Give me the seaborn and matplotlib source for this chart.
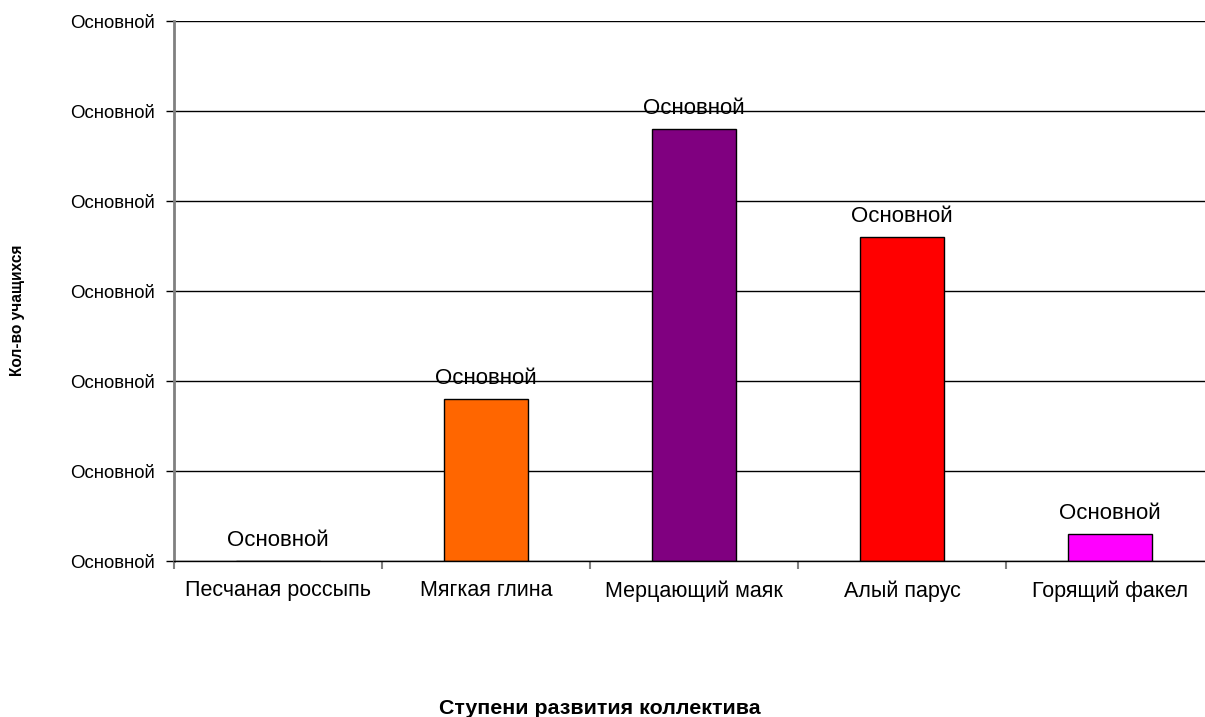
import matplotlib
matplotlib.use('Agg')
from matplotlib import pyplot as plt
import numpy as np
import pandas as pd
import seaborn as sns


categories = ['Песчаная россыпь', 'Мягкая глина', 'Мерцающий маяк', 'Алый парус', 'Горящий факел']
counts = [0, 6, 16, 12, 1]
colors = ['#3366FF', '#FF6600', '#800080', '#FF0000', '#FF00FF']
y_ticks = np.linspace(0, 20, 7)
tick_label = 'Основной'

sns.set_style('white')
plt.rcParams['font.family'] = ['Liberation Sans', 'DejaVu Sans']
plt.rcParams['text.color'] = 'black'
plt.rcParams['xtick.labelcolor'] = 'black'
plt.rcParams['ytick.labelcolor'] = 'black'

df = pd.DataFrame({'stage': categories, 'count': counts})

fig = plt.figure(figsize=(12.05, 7.17), dpi=100)
# plot area runs past the right edge, as in the original
ax = fig.add_axes([174 / 1205, 1 - 561 / 717, 1040 / 1205, 540 / 717])

sns.barplot(data=df, x='stage', y='count', hue='stage', palette=colors, saturation=1,
            width=0.4, edgecolor='black', linewidth=1, legend=False, ax=ax)

ax.set_ylim(0, 20)
ax.set_xlim(-0.5, len(categories) - 0.5)
ax.set_yticks(y_ticks)
ax.set_yticklabels([tick_label] * len(y_ticks), fontsize=13.4)
ax.yaxis.grid(True, color='black', linewidth=1)
ax.set_axisbelow(True)
ax.tick_params(axis='y', length=6, width=1, color='black', pad=8, left=True)

# category labels between boundary ticks
ax.set_xticks(np.arange(len(categories)))
ax.set_xticklabels(categories, fontsize=15.5)
ax.tick_params(axis='x', which='major', length=0, pad=14)
ax.set_xticks(np.arange(len(categories) + 1) - 0.5, minor=True)
ax.tick_params(axis='x', which='minor', length=6, width=1.5, color='#808080', bottom=True)

for side in ['top', 'right']:
    ax.spines[side].set_visible(False)
ax.spines['left'].set_color('#808080')
ax.spines['left'].set_linewidth(2)
ax.spines['bottom'].set_color('black')
ax.spines['bottom'].set_linewidth(1)

for i, v in enumerate(counts):
    ax.annotate(tick_label, (i, v), xytext=(0, 7), textcoords='offset points',
                ha='center', va='bottom', fontsize=16)

ax.set_xlabel('')
ax.set_ylabel('')
fig.text(18 / 1205, 1 - 310 / 717, 'Кол-во учащихся', rotation=90, ha='center', va='center',
         fontsize=11.2, fontweight='bold')
fig.text(600 / 1205, 1 - 708 / 717, 'Ступени развития коллектива', ha='center', va='center',
         fontsize=15.4, fontweight='bold')

fig.savefig('out.png', dpi=100)
